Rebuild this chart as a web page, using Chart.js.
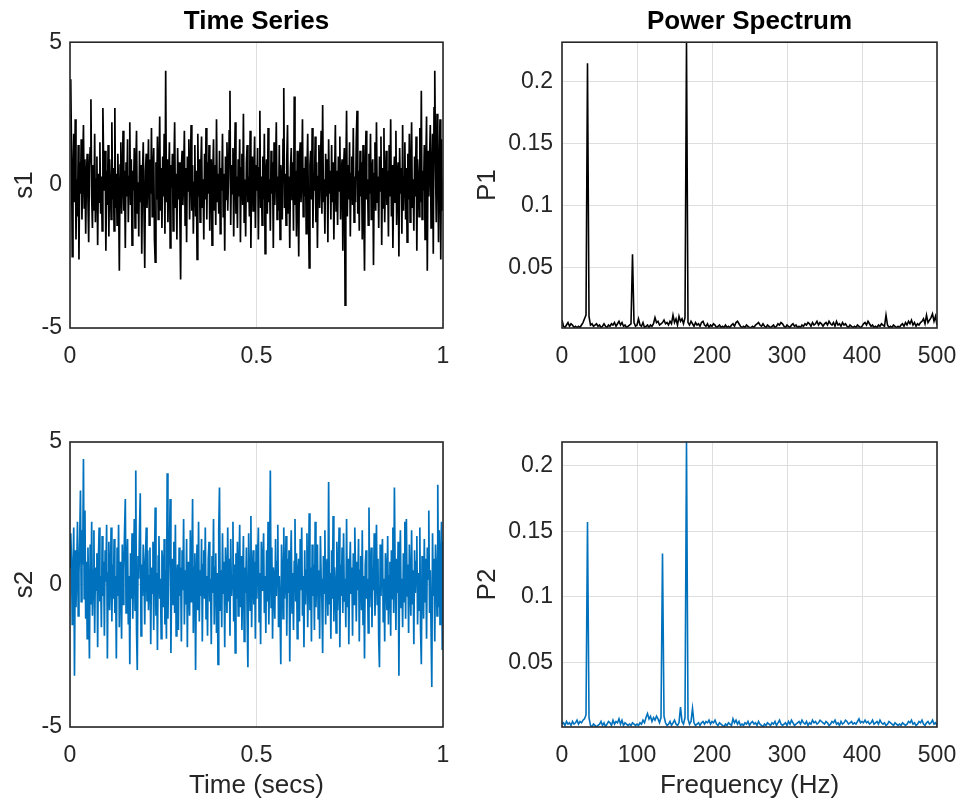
<!DOCTYPE html>
<html>
<head>
<meta charset="utf-8">
<script src="https://cdn.jsdelivr.net/npm/chart.js@4.4.1/dist/chart.umd.min.js"></script>
<style>
    html, body { margin: 0; padding: 0; background: #ffffff; }
    body { width: 960px; height: 802px; position: relative; overflow: hidden; }
    canvas { position: absolute; }
</style>
</head>
<body>
<canvas id="s1Chart" style="left:0px;top:0px;width:480px;height:400px" width="480" height="400"></canvas>
<canvas id="p1Chart" style="left:460px;top:0px;width:500px;height:400px" width="500" height="400"></canvas>
<canvas id="s2Chart" style="left:0px;top:400px;width:480px;height:402px" width="480" height="402"></canvas>
<canvas id="p2Chart" style="left:460px;top:400px;width:500px;height:402px" width="500" height="402"></canvas>
<script>
// Time series samples (500 samples over 1 s, 25 per row)
const s1 = [
    3.5, 3.7, 1.2, -2.5, 0.4, 1.8, -0.6, 2.3, -1.9, 0.2, -1.1, 1.4, -2.6, 0.8, -0.3, 1.6, -1.2, 0.5, 2.1, -0.8, 0.9, -1.7, 0.3, 1.1, -0.5,
    -2.0, 0.6, 1.3, 3.0, -0.4, -1.5, 0.7, -0.9, 1.8, -1.3, 0.2, 1.0, -2.1, 0.4, -0.6, 1.5, -1.0, 0.3, -1.6, 2.7, 0.8, -0.2, 1.2, -2.3, 0.5,
    -0.7, 1.4, -1.8, 0.9, 0.1, -1.2, 2.2, -0.5, 0.6, -1.6, 2.7, -0.8, 0.4, -1.4, 1.1, -0.3, -3.0, 0.7, 1.5, -1.0, 0.2, 1.9, -0.9, 0.5, -2.2,
    0.8, -0.4, 1.6, -1.3, 0.3, 2.2, -0.7, 0.9, -2.1, 0.5, -0.2, 1.3, -1.5, 0.6, 1.9, -1.0, 0.1, -1.8, 1.2, -0.6, 0.7, -2.4, 0.4, 1.5, -0.9,
    -2.9, 0.5, 1.1, -0.8, 0.2, 1.6, -1.4, 0.9, -0.3, 2.0, -1.1, 0.4, 1.3, -1.9, -2.7, 0.8, -0.5, 1.7, -1.2, 0.3, 2.4, -0.9, 0.6, -1.5, 1.0,
    -0.4, 1.8, -1.7, 4.0, -0.6, 0.9, -1.3, 0.2, 1.5, -2.2, 0.7, -0.1, 1.1, -1.6, 0.5, 2.2, -0.8, 0.4, -1.9, 1.3, -0.5, 0.8, -1.1, -3.3, 0.6,
    1.2, -0.7, 0.3, 1.9, -1.4, 0.6, -2.0, 1.0, -0.2, 1.6, -1.2, 0.4, 2.1, -0.9, 0.7, -1.7, 0.1, 1.4, -1.1, 0.5, -2.6, 1.8, -0.4, 0.9, -1.3,
    0.6, 1.7, -0.8, 0.2, -1.9, 1.1, -0.5, 2.0, -1.2, 0.8, -0.3, 1.4, -1.6, 0.5, 0.9, -2.1, 0.3, 1.6, -0.9, 0.7, -1.4, 2.3, -0.6, 0.4, -1.0,
    1.2, -1.7, 0.6, -0.2, 1.8, -1.1, 0.4, -2.3, 1.0, -0.5, 1.5, -0.9, 0.2, 1.9, 3.3, -1.4, 0.7, -0.3, 1.3, -1.8, 0.5, 2.2, -1.0, 0.3, -1.5,
    0.9, -0.4, 1.6, -2.0, 0.6, 1.1, -0.7, 2.5, -1.3, 0.2, -1.8, 0.8, 1.4, -0.6, 0.3, -1.1, 1.9, -2.2, 0.5, 1.0, -0.9, 0.4, 1.7, -1.5, 0.7,
    -0.2, 1.3, -1.9, 0.6, 2.6, -0.8, 0.3, -1.4, 1.0, -0.5, 1.8, -2.4, 0.4, 0.9, -1.0, 2.0, -0.6, 0.2, -1.6, 1.2, -0.3, 0.8, -2.2, 1.5, -0.7,
    0.5, 2.2, -1.2, 0.3, -0.9, 1.4, -1.9, 0.7, 0.1, -1.2, 1.6, 3.4, -0.8, 0.4, -1.4, 0.9, 2.1, -1.0, 0.3, -2.2, 0.6, 1.3, -0.5, 0.8, -1.6,
    3.1, -0.7, 0.5, -1.8, 1.2, -0.3, -2.5, 0.9, 1.5, -0.6, 0.2, 2.3, -1.1, 0.6, -0.4, 1.0, -1.7, 0.4, 1.8, -0.9, -2.9, 0.7, 1.2, -0.5, 2.0,
    -1.5, 0.4, -0.2, 1.7, -1.3, 0.8, -2.2, 0.3, 1.4, -0.8, 0.6, 1.9, -1.0, 2.8, -0.6, 0.2, -1.7, 1.1, -0.4, 0.9, -2.0, 1.6, -0.3, 0.5, -1.2,
    1.4, -0.6, 0.8, -1.9, 0.2, 2.1, -0.9, 0.5, -1.4, 1.0, -0.2, 1.7, -1.2, 0.4, 0.9, -2.3, 0.6, 1.3, -4.2, 0.3, 2.6, -1.1, 0.7, -0.5, 1.5,
    -1.8, 0.4, 1.0, -0.7, 2.0, -1.3, 0.3, -0.6, 1.6, 2.6, -1.0, 0.5, -1.6, 1.2, -0.4, 0.8, -1.9, 1.4, -0.8, -3.0, 0.6, 1.9, -0.5, 0.2, -1.4,
    1.1, -0.3, 1.8, -1.2, 0.5, 0.9, -2.8, 0.4, 1.5, -0.9, 2.2, -0.6, 0.3, -1.5, 1.0, -0.2, 1.7, -2.1, 0.6, -0.8, 2.0, -1.3, 0.2, 1.2, -0.7,
    0.5, -1.8, 1.4, -0.4, 2.3, -1.1, 0.7, -2.2, 0.2, 1.0, -0.6, 1.9, -1.4, 0.4, 0.8, -2.5, 1.3, -0.3, 0.6, -1.7, 2.1, -0.9, 0.3, 1.5, -1.2,
    0.6, -2.0, 1.1, -0.5, 1.8, -1.3, 0.4, 2.2, -0.8, 0.2, -1.6, 1.0, -0.4, 1.7, -2.3, 0.9, 0.3, -1.1, 2.0, -0.6, 3.3, -1.2, 0.5, -0.2, 1.4,
    -1.9, 0.7, 2.4, -3.0, 1.2, -0.4, 0.9, 2.1, -1.5, 0.3, 1.8, -2.4, 2.7, 4.0, 0.6, -1.3, 2.5, 1.1, -2.0, 0.8, 2.3, -2.6, 1.6, -0.9, 0.2
];

const s2 = [
    0.6, 1.8, 0.9, -1.4, 0.3, 2.0, -3.2, 1.2, -0.8, 0.5, 2.2, -1.1, 0.4, 1.6, 3.3, -0.6, 1.9, 0.7, 4.4, -0.5, 2.6, -1.2, 0.8, -1.9, 1.3,
    -0.3, -2.6, 1.4, -0.7, 2.2, -1.1, 0.5, 1.9, -1.7, 0.6, -0.2, 1.1, -2.2, 0.9, 2.0, -0.6, 0.3, -1.5, 1.7, -0.4, 0.8, -1.8, 1.2, 0.1, 2.1,
    -2.6, 0.4, 1.5, -0.9, 0.2, 2.0, -1.3, 0.7, -0.5, 1.6, -1.0, 0.3, -2.6, 1.3, -0.4, 2.1, -1.5, 0.8, 0.2, -1.9, 1.4, -0.7, 0.5, 1.9, 3.0,
    -1.0, 0.6, 1.6, -1.4, 0.3, -2.8, 1.1, -0.5, 1.8, -1.2, 0.4, 2.3, -0.9, 4.0, -1.6, -3.0, 1.0, 0.2, 1.9, 3.2, -1.8, 0.7, -0.4, 1.4, 0.5,
    -1.4, 0.9, 2.0, -0.6, 1.2, -0.9, 0.3, 1.3, -2.1, 0.6, -0.3, 1.5, -1.6, 0.8, 2.7, -1.1, 0.4, -2.3, 1.0, 1.7, -0.5, 0.2, -1.9, 1.2, 0.7,
    -0.8, 1.6, -1.4, 0.5, -1.9, 3.9, -1.2, 0.6, 1.4, 3.0, -2.4, 0.3, 0.9, -0.7, 1.5, -1.0, 2.1, -1.8, 0.2, 0.7, -1.6, 1.3, -0.4, 0.6, -2.0,
    1.2, -0.2, 2.3, -1.4, 0.5, -0.7, 1.6, -2.2, 0.8, 0.2, -1.1, 1.9, -0.6, 0.4, 3.0, -1.7, 0.6, 1.1, -3.0, 0.3, 1.4, -0.9, 2.2, -1.3, 0.5,
    -0.4, 1.6, -2.0, 0.7, 1.2, -0.5, 2.0, -1.2, 0.3, -1.8, 0.9, 1.5, -0.6, 0.2, -2.1, 1.0, -0.3, 2.3, -1.4, 0.6, 1.1, -1.7, 0.4, -2.8, 1.9,
    3.4, -0.9, 0.5, -1.5, 1.8, -0.3, 0.8, -2.2, 1.3, 0.2, -1.0, 2.0, -0.6, 0.9, -1.8, 1.6, -0.4, 0.3, 2.2, -1.3, 0.7, -2.4, 1.1, -0.5, 1.5,
    -1.1, 0.4, 2.1, -0.8, 1.0, -1.6, 0.2, 1.7, -2.0, 0.6, -0.3, 1.3, -1.2, -2.9, 1.8, 0.5, -0.9, 2.4, -1.5, 0.3, 1.2, -0.7, 0.8, -1.9, 1.4,
    -0.5, 0.9, 2.0, -1.3, 0.4, -2.1, 1.5, -0.2, 0.7, 1.8, -1.0, 0.3, -1.7, 1.2, -0.6, 2.2, -1.4, 0.5, 4.0, -0.8, 1.3, -1.9, 0.6, 0.1, -1.2,
    1.6, -0.4, 0.8, 2.1, -1.5, 0.3, -0.9, -2.8, 1.4, 0.6, -1.2, 2.0, -0.5, 0.2, 1.7, -1.8, 0.9, -0.3, 1.2, -2.7, 0.5, 1.9, -1.0, 0.4, -1.6,
    0.8, 2.3, -0.6, 1.1, -1.9, 0.4, 0.9, -1.3, 1.6, -0.2, 2.0, -1.1, 0.3, -2.2, 1.2, -0.7, 0.5, 1.8, -1.5, 0.2, 2.5, -0.9, 0.6, -2.0, 1.4,
    -0.4, 0.7, -1.6, 2.2, -0.8, 0.3, 1.4, -1.2, 0.5, -1.9, 1.7, 0.2, -0.6, -2.4, 1.0, -0.3, 1.9, -1.4, 0.6, 0.9, -1.1, 3.6, -0.7, 0.4, -1.9,
    1.2, -0.5, 2.4, -1.3, 0.6, 0.1, -1.7, 1.5, -0.9, 0.3, 2.0, -2.2, 0.7, -0.4, 1.3, -1.0, 1.8, -0.6, 0.2, -1.5, 2.3, -0.8, 0.9, -2.1, 0.4,
    1.5, -0.3, 0.6, -1.8, 1.1, -0.7, 2.0, 0.4, -1.3, 0.8, -0.2, 1.6, -2.0, 0.5, 1.0, -0.9, 1.9, -1.4, 0.3, -2.6, 0.7, 1.2, -0.5, 0.2, -1.7,
    2.7, -0.8, 0.4, 1.3, -1.5, 0.6, -0.2, 1.8, -1.1, 0.3, 2.1, -0.7, 0.9, -1.9, -2.9, 1.4, -0.4, 0.7, 1.6, -1.3, 0.2, -2.0, 1.1, 0.5, -0.9,
    1.7, -1.4, 0.3, 0.8, -1.8, 1.2, -0.5, 2.0, -1.0, 3.4, 0.4, -1.6, 0.9, -0.3, 1.5, -3.2, 0.6, 1.9, -0.8, 0.2, -1.5, 1.1, -0.6, 2.2, -1.2,
    2.3, -0.4, 0.7, -1.7, 1.4, 0.1, -1.1, 1.9, -0.7, 0.5, -2.1, 1.2, -0.3, 0.8, 1.7, -1.4, 0.4, -0.9, 2.0, -1.6, -2.8, 1.0, 0.3, -1.2, 1.6,
    -0.6, 0.9, -1.9, 1.3, 0.2, 2.6, -1.0, 0.5, -1.5, -3.6, 1.8, -0.4, 0.9, -2.0, 1.4, 0.6, -1.1, 3.5, -0.8, 1.9, -1.4, 0.7, 2.2, -2.3, 1.5
];

// Single-sided power spectra, one value every 2 Hz from 0 to 500 Hz
const p1 = [
    0.008, 0.003, 0.002, 0.004, 0.006, 0.003, 0.005, 0.004, 0.002, 0.003, 0.002, 0.003, 0.002, 0.004, 0.006, 0.009, 0.012, 0.215, 0.011, 0.004, 0.005, 0.003, 0.004, 0.005, 0.003,
    0.004, 0.002, 0.003, 0.005, 0.003, 0.002, 0.004, 0.003, 0.005, 0.004, 0.006, 0.003, 0.005, 0.007, 0.004, 0.006, 0.003, 0.004, 0.002, 0.003, 0.004, 0.005, 0.061, 0.006, 0.003,
    0.004, 0.009, 0.004, 0.003, 0.006, 0.002, 0.003, 0.004, 0.002, 0.004, 0.003, 0.005, 0.010, 0.006, 0.007, 0.004, 0.005, 0.006, 0.008, 0.005, 0.006, 0.004, 0.007, 0.005, 0.012,
    0.006, 0.009, 0.004, 0.011, 0.007, 0.009, 0.005, 0.010, 0.232, 0.006, 0.004, 0.007, 0.005, 0.003, 0.006, 0.004, 0.005, 0.003, 0.006, 0.007, 0.004, 0.003, 0.005, 0.002, 0.004,
    0.003, 0.005, 0.004, 0.002, 0.003, 0.004, 0.002, 0.003, 0.002, 0.004, 0.002, 0.003, 0.002, 0.004, 0.005, 0.003, 0.006, 0.007, 0.005, 0.003, 0.002, 0.003, 0.002, 0.004, 0.003,
    0.002, 0.002, 0.003, 0.002, 0.004, 0.005, 0.006, 0.004, 0.003, 0.005, 0.003, 0.002, 0.004, 0.003, 0.002, 0.003, 0.004, 0.002, 0.003, 0.005, 0.004, 0.006, 0.005, 0.003, 0.002,
    0.004, 0.003, 0.002, 0.004, 0.005, 0.003, 0.004, 0.002, 0.003, 0.002, 0.004, 0.003, 0.005, 0.004, 0.006, 0.005, 0.003, 0.006, 0.004, 0.005, 0.007, 0.004, 0.006, 0.005, 0.003,
    0.005, 0.006, 0.004, 0.007, 0.005, 0.004, 0.006, 0.003, 0.007, 0.004, 0.005, 0.003, 0.006, 0.004, 0.005, 0.003, 0.002, 0.004, 0.003, 0.002, 0.003, 0.002, 0.004, 0.003, 0.002,
    0.003, 0.005, 0.006, 0.004, 0.007, 0.005, 0.003, 0.004, 0.002, 0.003, 0.002, 0.004, 0.003, 0.005, 0.004, 0.003, 0.012, 0.004, 0.002, 0.003, 0.002, 0.004, 0.003, 0.002, 0.003,
    0.002, 0.004, 0.005, 0.003, 0.006, 0.004, 0.007, 0.005, 0.008, 0.004, 0.006, 0.003, 0.005, 0.004, 0.006, 0.007, 0.009, 0.005, 0.012, 0.006, 0.008, 0.010, 0.013, 0.007, 0.011, 0.004
];

const p2 = [
    0.003, 0.004, 0.002, 0.005, 0.003, 0.004, 0.002, 0.005, 0.003, 0.004, 0.006, 0.003, 0.005, 0.004, 0.006, 0.007, 0.010, 0.157, 0.008, 0.002, 0.001, 0.003, 0.002, 0.001, 0.002,
    0.003, 0.005, 0.002, 0.004, 0.001, 0.003, 0.005, 0.004, 0.002, 0.006, 0.003, 0.005, 0.004, 0.007, 0.003, 0.006, 0.002, 0.004, 0.003, 0.002, 0.003, 0.002, 0.004, 0.003, 0.002,
    0.003, 0.002, 0.004, 0.003, 0.006, 0.004, 0.008, 0.011, 0.007, 0.009, 0.005, 0.008, 0.006, 0.009, 0.007, 0.004, 0.008, 0.133, 0.009, 0.004, 0.002, 0.003, 0.005, 0.002, 0.004,
    0.006, 0.003, 0.002, 0.004, 0.016, 0.005, 0.003, 0.008, 0.218, 0.007, 0.003, 0.005, 0.015, 0.004, 0.002, 0.003, 0.004, 0.002, 0.004, 0.005, 0.003, 0.005, 0.004, 0.006, 0.003,
    0.005, 0.004, 0.006, 0.003, 0.002, 0.004, 0.003, 0.002, 0.001, 0.003, 0.002, 0.004, 0.003, 0.002, 0.007, 0.004, 0.006, 0.003, 0.005, 0.002, 0.003, 0.002, 0.004, 0.003, 0.005,
    0.002, 0.004, 0.005, 0.003, 0.004, 0.002, 0.005, 0.003, 0.002, 0.001, 0.003, 0.002, 0.004, 0.003, 0.002, 0.004, 0.003, 0.005, 0.002, 0.004, 0.006, 0.003, 0.002, 0.003, 0.004,
    0.002, 0.005, 0.003, 0.006, 0.004, 0.002, 0.003, 0.004, 0.005, 0.003, 0.006, 0.004, 0.003, 0.005, 0.002, 0.004, 0.003, 0.006, 0.004, 0.005, 0.003, 0.004, 0.006, 0.005, 0.004,
    0.003, 0.005, 0.004, 0.002, 0.003, 0.005, 0.004, 0.006, 0.003, 0.004, 0.002, 0.005, 0.003, 0.004, 0.006, 0.005, 0.003, 0.004, 0.005, 0.003, 0.004, 0.003, 0.005, 0.007, 0.004,
    0.005, 0.004, 0.006, 0.004, 0.005, 0.003, 0.004, 0.006, 0.003, 0.004, 0.005, 0.003, 0.006, 0.004, 0.003, 0.004, 0.002, 0.003, 0.005, 0.004, 0.003, 0.002, 0.004, 0.003, 0.002,
    0.003, 0.002, 0.004, 0.003, 0.002, 0.003, 0.005, 0.004, 0.006, 0.003, 0.004, 0.002, 0.003, 0.005, 0.004, 0.006, 0.003, 0.002, 0.004, 0.005, 0.003, 0.004, 0.006, 0.003, 0.004, 0.002
];

// Axis ticks
const timeTicks = [0, 0.5, 1];
const sigTicks = [-5, 0, 5];
const freqTicks = [0, 100, 200, 300, 400, 500];
const powerTicks = [0.05, 0.1, 0.15, 0.2];

const freqStep = 2;
const p1Range = [0.0016, 0.232];
const p2Range = [0.0008, 0.218];

const fontFamily = '"Liberation Sans", Arial, Helvetica, sans-serif';
const axisColor = '#262626';
const gridColor = '#dedede';

// sample times / frequencies for each point
function timePoints(vals) {
    return vals.map((v, i) => ({ x: i / (vals.length - 1), y: v }));
}
function freqPoints(vals) {
    return vals.map((v, i) => ({ x: i * freqStep, y: v }));
}

// draws the full box around the plot area like MATLAB
const axesBox = {
    id: 'axesBox',
    afterDraw(chart) {
        const a = chart.chartArea;
        const ctx = chart.ctx;
        ctx.save();
        ctx.strokeStyle = axisColor;
        ctx.lineWidth = 1.6;
        ctx.strokeRect(a.left, a.top, a.right - a.left, a.bottom - a.top);
        ctx.restore();
    }
};

function makePanel(id, cfg) {
    const ctx = document.getElementById(id).getContext('2d');
    return new Chart(ctx, {
        type: 'line',
        data: {
            datasets: [{
                data: cfg.points,
                borderColor: cfg.color,
                borderWidth: cfg.lineWidth,
                pointRadius: 0,
                tension: 0,
                fill: false
            }]
        },
        plugins: [axesBox],
        options: {
            responsive: false,
            animation: false,
            events: [],
            layout: { padding: cfg.padding },
            plugins: {
                legend: { display: false },
                tooltip: { enabled: false },
                title: {
                    display: !!cfg.title,
                    text: cfg.title || '',
                    fullSize: false,
                    color: '#000000',
                    font: { family: fontFamily, size: 26, weight: 'bold' },
                    padding: { top: 6, bottom: 5 }
                }
            },
            scales: {
                x: {
                    type: 'linear',
                    min: cfg.xMin,
                    max: cfg.xMax,
                    afterBuildTicks: s => { s.ticks = cfg.xTicks.map(v => ({ value: v })); },
                    afterFit: s => {
                        s.height = cfg.xHeight;
                        s.paddingLeft = 0;
                        s.paddingRight = 0;
                    },
                    grid: { color: gridColor, drawTicks: false },
                    border: { display: false },
                    ticks: {
                        color: axisColor,
                        padding: 15,
                        maxRotation: 0,
                        font: { family: fontFamily, size: 23 },
                        callback: v => String(v)
                    },
                    title: {
                        display: !!cfg.xLabel,
                        text: cfg.xLabel || '',
                        color: axisColor,
                        font: { family: fontFamily, size: 26 },
                        padding: { top: 0, bottom: 1 }
                    }
                },
                y: {
                    type: 'linear',
                    min: cfg.yMin,
                    max: cfg.yMax,
                    afterBuildTicks: s => { s.ticks = cfg.yTicks.map(v => ({ value: v })); },
                    afterFit: s => {
                        s.width = cfg.yWidth;
                        s.paddingTop = 0;
                        s.paddingBottom = 0;
                    },
                    grid: { color: gridColor, drawTicks: false },
                    border: { display: false },
                    ticks: {
                        color: axisColor,
                        padding: cfg.yTickPad,
                        font: { family: fontFamily, size: 23 },
                        callback: v => String(v)
                    },
                    title: {
                        display: true,
                        text: cfg.yLabel,
                        color: axisColor,
                        font: { family: fontFamily, size: 26 },
                        padding: { top: 4, bottom: 4 }
                    }
                }
            }
        }
    });
}

document.addEventListener('DOMContentLoaded', function() {
    // Time Series s1
    makePanel('s1Chart', {
        points: timePoints(s1), color: '#000000', lineWidth: 1.7,
        title: 'Time Series', yLabel: 's1',
        xMin: 0, xMax: 1, xTicks: timeTicks,
        yMin: -5, yMax: 5, yTicks: sigTicks,
        padding: { left: 5, right: 37, top: 0, bottom: 0 },
        yWidth: 65, xHeight: 72, yTickPad: 8
    });

    // Power Spectrum P1
    makePanel('p1Chart', {
        points: freqPoints(p1), color: '#000000', lineWidth: 1.6,
        title: 'Power Spectrum', yLabel: 'P1',
        xMin: 0, xMax: 500, xTicks: freqTicks,
        yMin: p1Range[0], yMax: p1Range[1], yTicks: powerTicks,
        padding: { left: 8, right: 23, top: 0, bottom: 0 },
        yWidth: 94, xHeight: 72, yTickPad: 9
    });

    // Time Series s2
    makePanel('s2Chart', {
        points: timePoints(s2), color: '#0072BD', lineWidth: 1.7,
        xLabel: 'Time (secs)', yLabel: 's2',
        xMin: 0, xMax: 1, xTicks: timeTicks,
        yMin: -5, yMax: 5, yTicks: sigTicks,
        padding: { left: 5, right: 37, top: 42, bottom: 0 },
        yWidth: 65, xHeight: 75, yTickPad: 8
    });

    // Power Spectrum P2
    makePanel('p2Chart', {
        points: freqPoints(p2), color: '#0072BD', lineWidth: 1.6,
        xLabel: 'Frequency (Hz)', yLabel: 'P2',
        xMin: 0, xMax: 500, xTicks: freqTicks,
        yMin: p2Range[0], yMax: p2Range[1], yTicks: powerTicks,
        padding: { left: 8, right: 23, top: 42, bottom: 0 },
        yWidth: 94, xHeight: 75, yTickPad: 9
    });
});
</script>
</body>
</html>
